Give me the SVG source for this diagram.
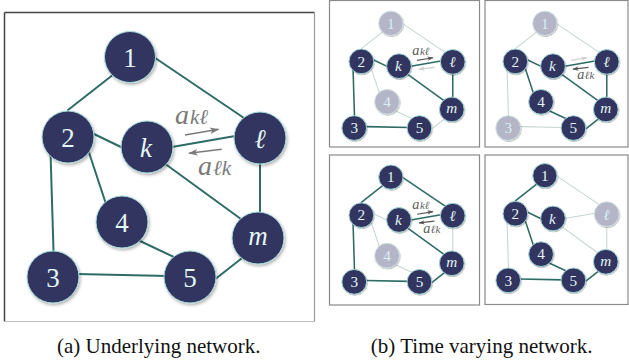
<svg xmlns="http://www.w3.org/2000/svg" width="629" height="364" viewBox="0 0 629 364" font-family="'Liberation Serif', 'DejaVu Serif', 'Times New Roman', serif">
<defs>
<style>
.bg{fill:#ffffff}
.e{stroke:#2f6b65;stroke-width:2;stroke-linecap:round;fill:none}
.f{stroke:#c6d6d2;stroke-width:1;fill:none}
.sub .e{stroke-width:3.3}
.sub .f{stroke-width:2.2}
.node circle{fill:#30345f;stroke:#a6dcdc;stroke-width:1;filter:url(#sh)}
.sub .node circle{stroke-width:2}
.node.faded circle{fill:#b4b5c7;stroke:#cfe0e2}
.lbl{font-size:27px;fill:#e4f6f4;text-anchor:middle}
.sub .lbl{font-size:32px}
.node.faded .lbl{fill:#d9eff3}
.it{font-style:italic}
.arr{stroke:#7a7a7a;stroke-width:1.6;fill:none;marker-end:url(#ah)}
.sub .arr{stroke:#585858;stroke-width:2.6;marker-end:url(#ahd)}
.sub .arr.lt{stroke:#cfcfcf;marker-end:url(#ahl)}
.al{font-style:italic;fill:#7a7a7a}
.sub .al{fill:#606060}
.cap{font-size:21px;fill:#111;text-anchor:middle}
.fr{fill:none;stroke:#8a8a8a;stroke-width:1.2}
</style>
<filter id="sh" x="-30%" y="-30%" width="170%" height="170%">
<feDropShadow dx="1.2" dy="1.8" stdDeviation="1.4" flood-color="#000" flood-opacity="0.3"/>
</filter>
<marker id="ah" viewBox="0 0 10 10" refX="9" refY="5" markerWidth="6" markerHeight="6" orient="auto" markerUnits="strokeWidth">
<path d="M0,1.5 L10,5 L0,8.5 L2.5,5 z" fill="#7a7a7a"/>
</marker>
<marker id="ahd" viewBox="0 0 10 10" refX="9" refY="5" markerWidth="5" markerHeight="5" orient="auto" markerUnits="strokeWidth">
<path d="M0,1.5 L10,5 L0,8.5 L2.5,5 z" fill="#585858"/>
</marker>
<marker id="ahl" viewBox="0 0 10 10" refX="9" refY="5" markerWidth="5" markerHeight="5" orient="auto" markerUnits="strokeWidth">
<path d="M0,1.5 L10,5 L0,8.5 L2.5,5 z" fill="#cfcfcf"/>
</marker>
</defs>
<rect class="bg" x="0" y="0" width="629" height="364"/>

<!-- Panel (a) -->
<g id="panel-a">
<line x1="4.5" y1="12.5" x2="314.5" y2="12.5" stroke="#444" stroke-width="1.5"/>
<line x1="4.5" y1="12.5" x2="4.5" y2="321.5" stroke="#444" stroke-width="1.5"/>
<line x1="314.5" y1="12.5" x2="314.5" y2="321.5" stroke="#9a9a9a" stroke-width="1.2"/>
<line x1="4.5" y1="321.5" x2="314.5" y2="321.5" stroke="#bdbdbd" stroke-width="1.2"/>
<g id="a-edges">
<line class="e" x1="114" y1="74" x2="68" y2="110"/>
<line class="e" x1="153" y1="56.5" x2="244" y2="118"/>
<line class="e" x1="94" y1="134" x2="123" y2="148"/>
<line class="e" x1="88.5" y1="151" x2="106" y2="204"/>
<line class="e" x1="50.5" y1="152" x2="53.5" y2="251"/>
<line class="e" x1="172" y1="147" x2="238" y2="135.5"/>
<line class="e" x1="164" y1="163" x2="243" y2="220.5"/>
<line class="e" x1="260" y1="160" x2="260" y2="214"/>
<line class="e" x1="139" y1="240.5" x2="176" y2="258"/>
<line class="e" x1="77" y1="274" x2="168" y2="276"/>
<line class="e" x1="216" y1="278.5" x2="244" y2="256.5"/>
<line class="arr" x1="185" y1="135" x2="218.5" y2="129.3"/>
<line class="arr" x1="221.7" y1="149.3" x2="189" y2="153.3"/>
</g>
<text class="al" x="175" y="124" font-size="28">a<tspan font-size="21" dx="1">kℓ</tspan></text>
<text class="al" x="198" y="175" font-size="28">a<tspan font-size="21" dx="1">ℓk</tspan></text>
<g id="a-n1" class="node"><circle cx="130" cy="57" r="25.5"/><text class="lbl" x="130" y="66.5">1</text></g>
<g id="a-n2" class="node"><circle cx="68" cy="137" r="26"/><text class="lbl" x="68" y="146.5">2</text></g>
<g id="a-nk" class="node"><circle cx="147" cy="147" r="26"/><text class="lbl it" x="146" y="156.7">k</text></g>
<g id="a-nl" class="node"><circle cx="260" cy="138" r="26"/><text class="lbl it" x="260" y="148">ℓ</text></g>
<g id="a-n4" class="node"><circle cx="122" cy="222" r="26"/><text class="lbl" x="122" y="231.5">4</text></g>
<g id="a-nm" class="node"><circle cx="258" cy="238" r="26"/><text class="lbl it" x="258" y="245">m</text></g>
<g id="a-n3" class="node"><circle cx="53" cy="277" r="26"/><text class="lbl" x="53" y="286.5">3</text></g>
<g id="a-n5" class="node"><circle cx="190" cy="277" r="26"/><text class="lbl" x="190" y="286.5">5</text></g>
</g>

<!-- Panel (b) frames -->
<rect class="fr" x="329.5" y="0.5" width="150" height="146.5"/>
<rect class="fr" x="485" y="0.5" width="143" height="146.5"/>
<rect class="fr" x="329.5" y="155" width="150" height="150"/>
<rect class="fr" x="485" y="155" width="143" height="149.5"/>

<!-- Sub-panel top-left -->
<g id="panel-b1" class="sub" transform="translate(329,-3.8) scale(0.476)">
<g id="b1-edges">
<line class="f" x1="114" y1="74" x2="68" y2="110"/>
<line class="f" x1="153" y1="56.5" x2="244" y2="118"/>
<line class="e" x1="94" y1="134" x2="123" y2="148"/>
<line class="f" x1="88.5" y1="151" x2="106" y2="204"/>
<line class="e" x1="50.5" y1="152" x2="53.5" y2="251"/>
<line class="e" x1="172" y1="147" x2="238" y2="135.5"/>
<line class="e" x1="164" y1="163" x2="243" y2="220.5"/>
<line class="e" x1="260" y1="160" x2="260" y2="214"/>
<line class="f" x1="139" y1="240.5" x2="176" y2="258"/>
<line class="e" x1="77" y1="274" x2="168" y2="276"/>
<line class="f" x1="216" y1="278.5" x2="244" y2="256.5"/>
<line class="arr" x1="185" y1="135" x2="218.5" y2="129.3"/>
<line class="arr lt" x1="221.7" y1="149.3" x2="189" y2="153.3"/>
</g>
<text class="al" x="175" y="124" font-size="30">a<tspan font-size="23" dx="1">kℓ</tspan></text>
<g id="b1-n1" class="node faded"><circle cx="130" cy="57" r="25.5"/><text class="lbl" x="130" y="68">1</text></g>
<g id="b1-n2" class="node"><circle cx="68" cy="137" r="26"/><text class="lbl" x="68" y="148">2</text></g>
<g id="b1-nk" class="node"><circle cx="147" cy="147" r="26"/><text class="lbl it" x="146" y="158">k</text></g>
<g id="b1-nl" class="node"><circle cx="260" cy="138" r="26"/><text class="lbl it" x="260" y="149.5">ℓ</text></g>
<g id="b1-n4" class="node faded"><circle cx="122" cy="222" r="26"/><text class="lbl" x="122" y="233">4</text></g>
<g id="b1-nm" class="node"><circle cx="258" cy="238" r="26"/><text class="lbl it" x="258" y="246">m</text></g>
<g id="b1-n3" class="node"><circle cx="53" cy="277" r="26"/><text class="lbl" x="53" y="288">3</text></g>
<g id="b1-n5" class="node"><circle cx="190" cy="277" r="26"/><text class="lbl" x="190" y="288">5</text></g>
</g>

<!-- Sub-panel top-right -->
<g id="panel-b2" class="sub" transform="translate(483,-3.8) scale(0.476)">
<g id="b2-edges">
<line class="f" x1="114" y1="74" x2="68" y2="110"/>
<line class="f" x1="153" y1="56.5" x2="244" y2="118"/>
<line class="e" x1="94" y1="134" x2="123" y2="148"/>
<line class="e" x1="88.5" y1="151" x2="106" y2="204"/>
<line class="f" x1="50.5" y1="152" x2="53.5" y2="251"/>
<line class="e" x1="172" y1="147" x2="238" y2="135.5"/>
<line class="e" x1="164" y1="163" x2="243" y2="220.5"/>
<line class="e" x1="260" y1="160" x2="260" y2="214"/>
<line class="e" x1="139" y1="240.5" x2="176" y2="258"/>
<line class="f" x1="77" y1="274" x2="168" y2="276"/>
<line class="e" x1="216" y1="278.5" x2="244" y2="256.5"/>
<line class="arr lt" x1="185" y1="135" x2="218.5" y2="129.3"/>
<line class="arr" x1="221.7" y1="149.3" x2="189" y2="153.3"/>
</g>
<text class="al" x="198" y="175" font-size="30">a<tspan font-size="23" dx="1">ℓk</tspan></text>
<g id="b2-n1" class="node faded"><circle cx="130" cy="57" r="25.5"/><text class="lbl" x="130" y="68">1</text></g>
<g id="b2-n2" class="node"><circle cx="68" cy="137" r="26"/><text class="lbl" x="68" y="148">2</text></g>
<g id="b2-nk" class="node"><circle cx="147" cy="147" r="26"/><text class="lbl it" x="146" y="158">k</text></g>
<g id="b2-nl" class="node"><circle cx="260" cy="138" r="26"/><text class="lbl it" x="260" y="149.5">ℓ</text></g>
<g id="b2-n4" class="node"><circle cx="122" cy="222" r="26"/><text class="lbl" x="122" y="233">4</text></g>
<g id="b2-nm" class="node"><circle cx="258" cy="238" r="26"/><text class="lbl it" x="258" y="246">m</text></g>
<g id="b2-n3" class="node faded"><circle cx="53" cy="277" r="26"/><text class="lbl" x="53" y="288">3</text></g>
<g id="b2-n5" class="node"><circle cx="190" cy="277" r="26"/><text class="lbl" x="190" y="288">5</text></g>
</g>

<!-- Sub-panel bottom-left -->
<g id="panel-b3" class="sub" transform="translate(329,150) scale(0.476)">
<g id="b3-edges">
<line class="e" x1="114" y1="74" x2="68" y2="110"/>
<line class="e" x1="153" y1="56.5" x2="244" y2="118"/>
<line class="f" x1="94" y1="134" x2="123" y2="148"/>
<line class="f" x1="88.5" y1="151" x2="106" y2="204"/>
<line class="e" x1="50.5" y1="152" x2="53.5" y2="251"/>
<line class="e" x1="172" y1="147" x2="238" y2="135.5"/>
<line class="e" x1="164" y1="163" x2="243" y2="220.5"/>
<line class="f" x1="260" y1="160" x2="260" y2="214"/>
<line class="f" x1="139" y1="240.5" x2="176" y2="258"/>
<line class="e" x1="77" y1="274" x2="168" y2="276"/>
<line class="e" x1="216" y1="278.5" x2="244" y2="256.5"/>
<line class="arr" x1="185" y1="135" x2="218.5" y2="129.3"/>
<line class="arr" x1="221.7" y1="149.3" x2="189" y2="153.3"/>
</g>
<text class="al" x="175" y="124" font-size="30">a<tspan font-size="23" dx="1">kℓ</tspan></text>
<text class="al" x="198" y="175" font-size="30">a<tspan font-size="23" dx="1">ℓk</tspan></text>
<g id="b3-n1" class="node"><circle cx="130" cy="57" r="25.5"/><text class="lbl" x="130" y="68">1</text></g>
<g id="b3-n2" class="node"><circle cx="68" cy="137" r="26"/><text class="lbl" x="68" y="148">2</text></g>
<g id="b3-nk" class="node"><circle cx="147" cy="147" r="26"/><text class="lbl it" x="146" y="158">k</text></g>
<g id="b3-nl" class="node"><circle cx="260" cy="138" r="26"/><text class="lbl it" x="260" y="149.5">ℓ</text></g>
<g id="b3-n4" class="node faded"><circle cx="122" cy="222" r="26"/><text class="lbl" x="122" y="233">4</text></g>
<g id="b3-nm" class="node"><circle cx="258" cy="238" r="26"/><text class="lbl it" x="258" y="246">m</text></g>
<g id="b3-n3" class="node"><circle cx="53" cy="277" r="26"/><text class="lbl" x="53" y="288">3</text></g>
<g id="b3-n5" class="node"><circle cx="190" cy="277" r="26"/><text class="lbl" x="190" y="288">5</text></g>
</g>

<!-- Sub-panel bottom-right -->
<g id="panel-b4" class="sub" transform="translate(483,148.5) scale(0.476)">
<g id="b4-edges">
<line class="e" x1="114" y1="74" x2="68" y2="110"/>
<line class="f" x1="153" y1="56.5" x2="244" y2="118"/>
<line class="e" x1="94" y1="134" x2="123" y2="148"/>
<line class="e" x1="88.5" y1="151" x2="106" y2="204"/>
<line class="f" x1="50.5" y1="152" x2="53.5" y2="251"/>
<line class="f" x1="172" y1="147" x2="238" y2="135.5"/>
<line class="f" x1="164" y1="163" x2="243" y2="220.5"/>
<line class="f" x1="260" y1="160" x2="260" y2="214"/>
<line class="e" x1="139" y1="240.5" x2="176" y2="258"/>
<line class="e" x1="77" y1="274" x2="168" y2="276"/>
<line class="e" x1="216" y1="278.5" x2="244" y2="256.5"/>
</g>
<g id="b4-n1" class="node"><circle cx="130" cy="57" r="25.5"/><text class="lbl" x="130" y="68">1</text></g>
<g id="b4-n2" class="node"><circle cx="68" cy="137" r="26"/><text class="lbl" x="68" y="148">2</text></g>
<g id="b4-nk" class="node"><circle cx="147" cy="147" r="26"/><text class="lbl it" x="146" y="158">k</text></g>
<g id="b4-nl" class="node faded"><circle cx="260" cy="138" r="26"/><text class="lbl it" x="260" y="149.5">ℓ</text></g>
<g id="b4-n4" class="node"><circle cx="122" cy="222" r="26"/><text class="lbl" x="122" y="233">4</text></g>
<g id="b4-nm" class="node"><circle cx="258" cy="238" r="26"/><text class="lbl it" x="258" y="246">m</text></g>
<g id="b4-n3" class="node"><circle cx="53" cy="277" r="26"/><text class="lbl" x="53" y="288">3</text></g>
<g id="b4-n5" class="node"><circle cx="190" cy="277" r="26"/><text class="lbl" x="190" y="288">5</text></g>
</g>

<text class="cap" x="158.7" y="353">(a) Underlying network.</text>
<text class="cap" x="481.7" y="353">(b) Time varying network.</text>
</svg>
